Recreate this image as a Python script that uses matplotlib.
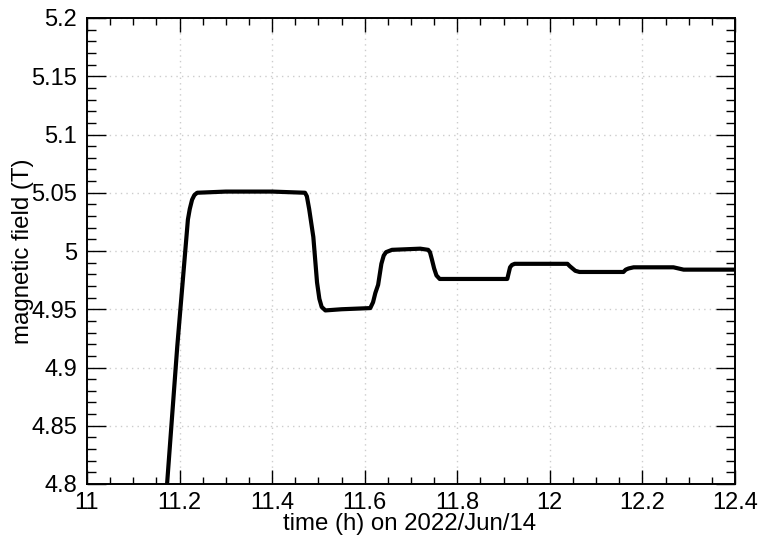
import numpy as np
import matplotlib
matplotlib.use("Agg")
import matplotlib.pyplot as plt
from matplotlib.ticker import MultipleLocator, FormatStrFormatter

# magnet field readout vs. time (hours)
time_h = [11.160, 11.173, 11.195, 11.218, 11.222, 11.227, 11.232, 11.238, 11.300,
          11.400, 11.471, 11.475, 11.480, 11.489, 11.497, 11.502, 11.507, 11.515,
          11.550, 11.612, 11.618, 11.623, 11.629, 11.636, 11.641, 11.646, 11.659,
          11.720, 11.737, 11.741, 11.745, 11.750, 11.755, 11.762, 11.850, 11.908,
          11.911, 11.914, 11.918, 11.924, 12.000, 12.038, 12.043, 12.049, 12.055,
          12.064, 12.159, 12.164, 12.170, 12.181, 12.267, 12.289, 12.400]
field_T = [4.745, 4.800, 4.918, 5.027, 5.036, 5.044, 5.048, 5.050, 5.051,
           5.051, 5.050, 5.047, 5.036, 5.012, 4.973, 4.959, 4.952, 4.949,
           4.950, 4.951, 4.956, 4.964, 4.971, 4.989, 4.996, 4.999, 5.001,
           5.002, 5.001, 4.999, 4.993, 4.985, 4.979, 4.976, 4.976, 4.976,
           4.981, 4.986, 4.988, 4.989, 4.989, 4.989, 4.987, 4.985, 4.983,
           4.982, 4.982, 4.984, 4.985, 4.986, 4.986, 4.984, 4.984]

plt.rcParams['font.family'] = ['Liberation Sans', 'DejaVu Sans']

fig = plt.figure(figsize=(7.6, 5.35), dpi=100)
ax = fig.add_axes([87/760, 51/535, 648/760, 466/535])

ax.plot(time_h, field_T, color='black', lw=3, solid_capstyle='round',
        solid_joinstyle='round', zorder=3)

ax.set_xlim(11, 12.4)
ax.set_ylim(4.8, 5.2)
ax.xaxis.set_major_locator(MultipleLocator(0.2))
ax.xaxis.set_minor_locator(MultipleLocator(0.05))
ax.yaxis.set_major_locator(MultipleLocator(0.05))
ax.yaxis.set_minor_locator(MultipleLocator(0.01))
ax.xaxis.set_major_formatter(FormatStrFormatter('%g'))
ax.yaxis.set_major_formatter(FormatStrFormatter('%g'))

ax.grid(True, which='major', color='#cccccc', linestyle=(0, (1, 3)), lw=1)
for s in ax.spines.values():
    s.set_linewidth(1.4)

ax.tick_params(axis='both', which='both', direction='in', top=True, right=True,
               labelsize=17, width=1)
ax.tick_params(axis='x', which='major', length=10, pad=6)
ax.tick_params(axis='x', which='minor', length=5)
ax.tick_params(axis='y', which='major', length=13.5, pad=7)
ax.tick_params(axis='y', which='minor', length=6.8)

fig.text(23/760, 1 - 251.5/535, 'magnetic field (T)', rotation=90,
         ha='center', va='center', fontsize=17.3)
fig.text(410/760, 1 - 530/535, 'time (h) on 2022/Jun/14',
         ha='center', va='baseline', fontsize=17.3)

fig.savefig('out.png', dpi=100)
